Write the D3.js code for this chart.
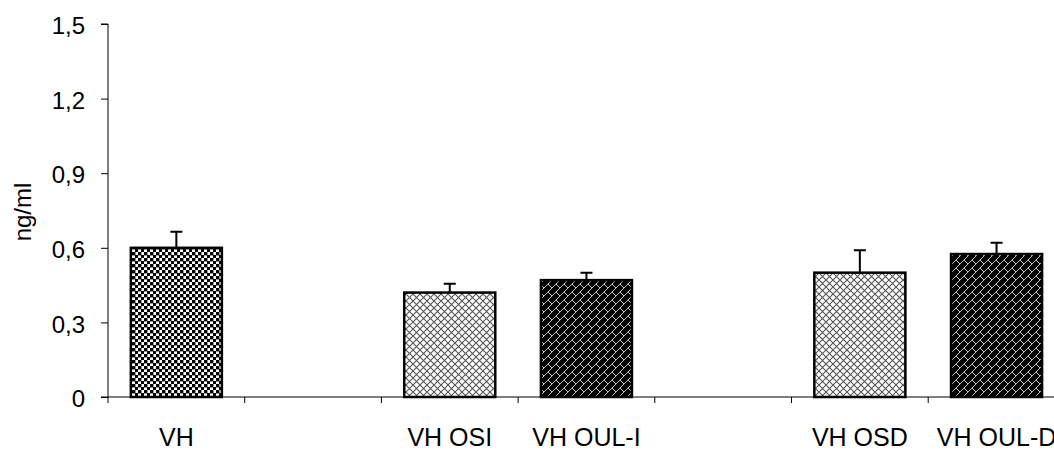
<!DOCTYPE html>
<html>
<head>
<meta charset="utf-8">
<script src="https://cdn.jsdelivr.net/npm/d3@7"></script>
<style>
  body { margin: 0; background: #fff; }
  text { font-family: "Liberation Sans", Arial, sans-serif; fill: #000; }
</style>
</head>
<body>
<div id="viz"></div>
<script>
// categories, empty strings are the gaps between the groups
var categories = ["VH", "", "VH OSI", "VH OUL-I", "", "VH OSD", "VH OUL-D"];
var values = [0.60, null, 0.42, 0.47, null, 0.50, 0.575];
var errors = [0.065, null, 0.035, 0.03, null, 0.09, 0.045];
var fills = ["check", null, "cross", "brick", null, "cross", "brick"];
var yTicks = [0, 0.3, 0.6, 0.9, 1.2, 1.5];
var yTickLabels = ["0", "0,3", "0,6", "0,9", "1,2", "1,5"];

var width = 1054, height = 450;

var svg = d3.select("#viz")
    .append("svg")
    .attr("width", width)
    .attr("height", height);

var defs = svg.append("defs");

// checkerboard
var p1 = defs.append("pattern").attr("id", "check")
    .attr("patternUnits", "userSpaceOnUse").attr("width", 6).attr("height", 6);
p1.append("rect").attr("width", 6).attr("height", 6).attr("fill", "#fff");
p1.append("rect").attr("width", 3.4).attr("height", 3.4).attr("fill", "#000");
p1.append("rect").attr("x", 3).attr("y", 3).attr("width", 3.4).attr("height", 3.4).attr("fill", "#000");

// diagonal cross hatch
var p2 = defs.append("pattern").attr("id", "cross")
    .attr("patternUnits", "userSpaceOnUse").attr("width", 7).attr("height", 7);
p2.append("rect").attr("width", 7).attr("height", 7).attr("fill", "#fff");
p2.append("path").attr("d", "M0,0L7,7M7,0L0,7")
    .attr("stroke", "#555").attr("stroke-width", 1.1);

// diagonal brick on black
var p3 = defs.append("pattern").attr("id", "brick")
    .attr("patternUnits", "userSpaceOnUse").attr("width", 8).attr("height", 8);
p3.append("rect").attr("width", 8).attr("height", 8).attr("fill", "#000");
p3.append("path").attr("d", "M-1,1L1,-1M0,8L8,0M7,9L9,7M4,4L8,8")
    .attr("stroke", "#c8c8c8").attr("stroke-width", 1);

var x0 = 108, y0 = 397;
var x = d3.scaleBand()
    .domain(d3.range(categories.length))
    .range([x0, x0 + 7 * 136.7])
    .paddingInner(0.334)
    .paddingOuter(0.167);
var step = x.step();
var edge = (step - x.bandwidth()) / 2;

var y = d3.scaleLinear().domain([0, 1.5]).range([y0, 24]);

// y axis
var yAxis = svg.append("g")
    .attr("transform", "translate(" + x0 + ",0)")
    .call(d3.axisLeft(y).tickValues(yTicks).tickSize(7).tickPadding(16)
        .tickFormat(function(d, i) { return yTickLabels[i]; }));
yAxis.selectAll("path, line").attr("stroke", "#000").attr("stroke-width", 1);
yAxis.select(".domain").attr("d", "M-7," + y(1.5) + "H0V" + y0);
yAxis.selectAll("text")
    .attr("font-size", 24)
    .attr("dy", "0.4em")
    .attr("font-family", "Liberation Sans, Arial, sans-serif");

// x axis line and ticks at band edges
svg.append("line")
    .attr("x1", x0 - 7).attr("x2", width)
    .attr("y1", y0).attr("y2", y0)
    .attr("stroke", "#000");
svg.selectAll(".xtick")
    .data(d3.range(categories.length))
    .enter().append("line")
    .attr("class", "xtick")
    .attr("x1", function(d) { return x(d) - edge; })
    .attr("x2", function(d) { return x(d) - edge; })
    .attr("y1", y0).attr("y2", y0 + 6)
    .attr("stroke", "#000");

svg.selectAll(".xlabel")
    .data(categories)
    .enter().append("text")
    .attr("class", "xlabel")
    .attr("x", function(d, i) { return x(i) + x.bandwidth() / 2; })
    .attr("y", 446)
    .attr("text-anchor", "middle")
    .attr("font-size", 25)
    .text(function(d) { return d; });

// bars
var idx = d3.range(categories.length).filter(function(i) { return values[i] != null; });

svg.selectAll(".err")
    .data(idx)
    .enter().append("path")
    .attr("class", "err")
    .attr("d", function(i) {
        var cx = x(i) + x.bandwidth() / 2;
        return "M" + cx + "," + y(values[i]) + "V" + y(values[i] + errors[i]) +
            "M" + (cx - 6) + "," + y(values[i] + errors[i]) + "H" + (cx + 6);
    })
    .attr("stroke", "#000")
    .attr("stroke-width", 2)
    .attr("fill", "none");

svg.selectAll(".bar")
    .data(idx)
    .enter().append("rect")
    .attr("class", "bar")
    .attr("x", function(i) { return x(i); })
    .attr("width", x.bandwidth())
    .attr("y", function(i) { return y(values[i]); })
    .attr("height", function(i) { return y0 - y(values[i]); })
    .attr("fill", function(i) { return "url(#" + fills[i] + ")"; })
    .attr("stroke", "#000")
    .attr("stroke-width", 2.5);

svg.append("text")
    .attr("transform", "translate(31,212) rotate(-90)")
    .attr("text-anchor", "middle")
    .attr("font-size", 24)
    .text("ng/ml");
</script>
</body>
</html>
